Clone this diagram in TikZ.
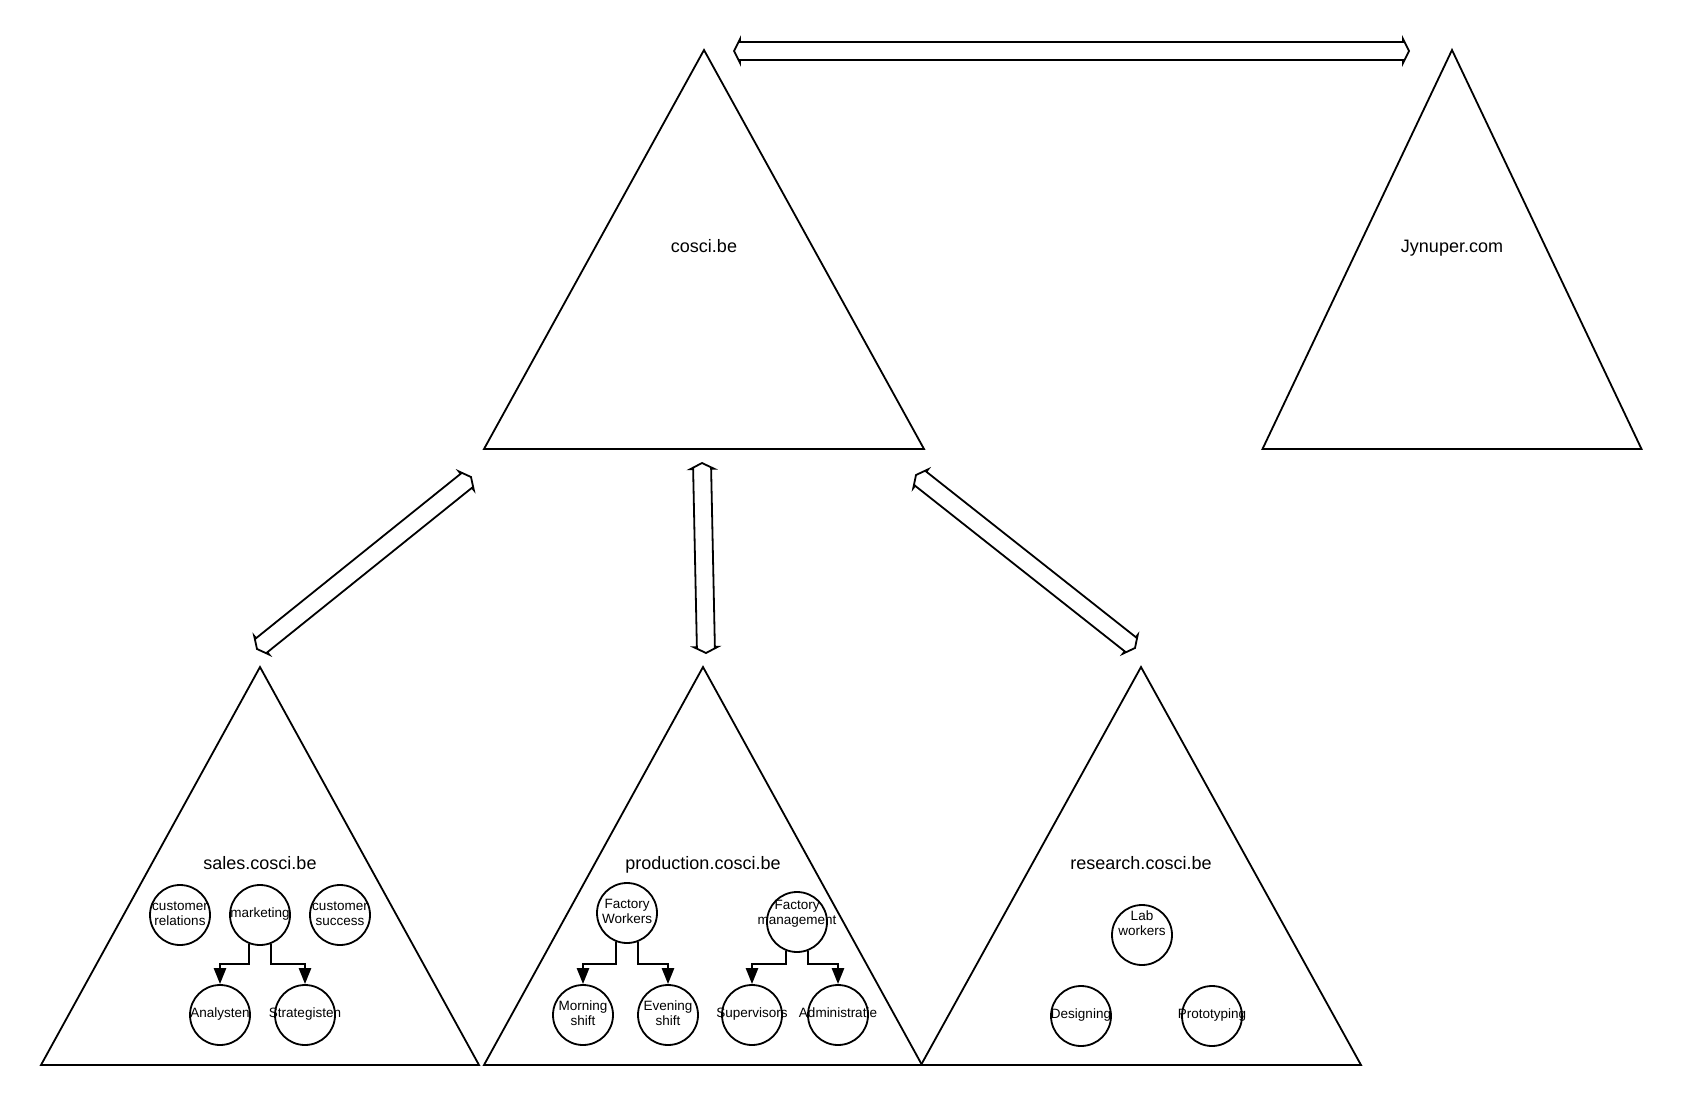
\documentclass[tikz,border=0pt]{standalone}
\usepackage{fontspec}
\setmainfont{Liberation Sans}
\usetikzlibrary{calc,arrows.meta}

% text of a unit circle, allowed to stick out of the circle
\newcommand{\unittext}[2][-3.4pt]{\makebox[0pt]{\raisebox{#1}[0pt][0pt]{\begin{tabular}{@{}c@{}}#2\end{tabular}}}}

% hollow two-headed arrow between two tips
\newcommand{\hollowlink}[2]{%
  \coordinate (ha) at ($(#1)!6pt!(#2)$);
  \coordinate (hb) at ($(#2)!6pt!(#1)$);
  \draw[link] (#1) -- ($(ha)!12pt!90:(#2)$) -- ($(ha)!9pt!90:(#2)$)
    -- ($(hb)!9pt!-90:(#1)$) -- ($(hb)!12pt!-90:(#1)$) -- (#2)
    -- ($(hb)!12pt!90:(#1)$) -- ($(hb)!9pt!90:(#1)$)
    -- ($(ha)!9pt!-90:(#2)$) -- ($(ha)!12pt!-90:(#2)$) -- cycle;}

\begin{document}
\begin{tikzpicture}[x=1pt,y=-1pt,
    dombox/.style={line width=1.8pt},
    domlabel/.style={font=\fontsize{18}{22}\selectfont},
    unit/.style={draw,circle,line width=1.8pt,minimum size=60pt,inner sep=0pt,
      font=\fontsize{13.5}{15.5}\selectfont},
    branch/.style={line width=2.6pt,-{Triangle[width=12pt,length=16pt]}},
    link/.style={line width=1.8pt}]
  \useasboundingbox (0,0) rectangle (1682,1106);

  % domains
  \foreach \ax/\ay/\hw/\tall in {704/50/220/399, 1452/50/189.5/399,
      260/667/219/398, 703/667/219/398, 1141/667/220/398}
    \draw[dombox] (\ax,\ay) -- ++(\hw,\tall) -- ++(-2*\hw,0) -- cycle;
  \node[domlabel] (cosci) at (704,246) {cosci.be};
  \node[domlabel] (jynuper) at (1452,248) {Jynuper.com};
  \node[domlabel] (sales) at (260,863) {sales.cosci.be};
  \node[domlabel] (prod) at (703,865) {production.cosci.be};
  \node[domlabel] (res) at (1141,863) {research.cosci.be};

  % trusts
  \coordinate (cosci-r) at (734,51);
  \coordinate (jyn-l) at (1409,51);
  \coordinate (cosci-bl) at (471,477);
  \coordinate (sales-t) at (257,649);
  \coordinate (cosci-b) at (702,463);
  \coordinate (prod-t) at (706,653);
  \coordinate (cosci-br) at (916,475);
  \coordinate (res-t) at (1135,648);
  \hollowlink{cosci-r}{jyn-l}
  \hollowlink{cosci-bl}{sales-t}
  \hollowlink{cosci-b}{prod-t}
  \hollowlink{cosci-br}{res-t}

  % sales units
  \node[unit] (crel) at (180,915) {\unittext{customer\\relations}};
  \node[unit] (mkt) at (260,915) {\unittext{marketing}};
  \node[unit] (csuc) at (340,915) {\unittext{customer\\success}};
  \node[unit] (ana) at (220,1015) {\unittext{Analysten}};
  \node[unit] (strat) at (305,1015) {\unittext{Strategisten}};
  \draw[branch] (mkt.-111) |- ([yshift=20pt]ana.north) -- (ana.north);
  \draw[branch] (mkt.-69) |- ([yshift=20pt]strat.north) -- (strat.north);

  % production units
  \node[unit] (fw) at (627,913) {\unittext{Factory\\Workers}};
  \node[unit] (fm) at (797,922) {\unittext[4.5pt]{Factory\\management}};
  \node[unit] (morn) at (583,1015) {\unittext{Morning\\shift}};
  \node[unit] (eve) at (668,1015) {\unittext{Evening\\shift}};
  \node[unit] (sup) at (752,1015) {\unittext{Supervisors}};
  \node[unit] (adm) at (838,1015) {\unittext{Administratie}};
  \draw[branch] (fw.-111) |- ([yshift=20pt]morn.north) -- (morn.north);
  \draw[branch] (fw.-69) |- ([yshift=20pt]eve.north) -- (eve.north);
  \draw[branch] (fm.-111) |- ([yshift=20pt]sup.north) -- (sup.north);
  \draw[branch] (fm.-69) |- ([yshift=20pt]adm.north) -- (adm.north);

  % research units
  \node[unit] (lab) at (1142,935) {\unittext[6.5pt]{Lab\\workers}};
  \node[unit] (des) at (1081,1016) {\unittext{Designing}};
  \node[unit] (proto) at (1212,1016) {\unittext{Prototyping}};
\end{tikzpicture}
\end{document}
